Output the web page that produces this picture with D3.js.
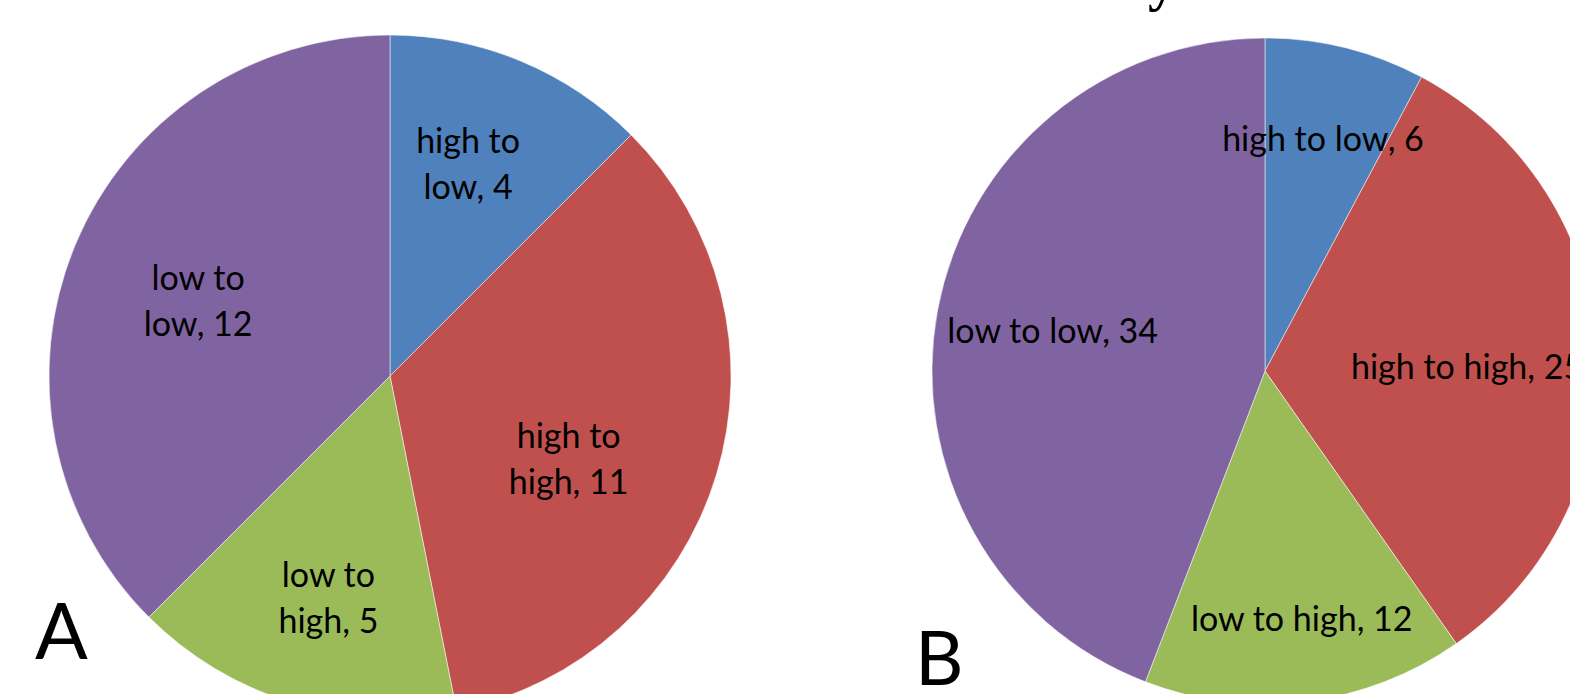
<!DOCTYPE html>
<html><head><meta charset="utf-8">
<script src="https://cdn.jsdelivr.net/npm/d3@7"></script>
<style>html,body{margin:0;padding:0;background:#fff;overflow:hidden}</style>
</head><body>
<svg id="chart" width="1570" height="694"></svg>
<script>
const categories = ["high to low", "high to high", "low to high", "low to low"];
const valuesA = [4, 11, 5, 12];
const valuesB = [6, 25, 12, 34];
const panelLabels = ["A", "B"];
const colors = ["#4F81BD", "#C0504D", "#9BBB59", "#8064A2"];

// layout (not data)
const pies = [
  {values: valuesA, cx: 390, cy: 376, r: 341, wrap: true,
   labR: [0.663, 0.578, 0.677, 0.604], labDA: [-2.3, 8.1, -1.4, -1.2],
   letter: {x: 35, y: 659, size: 78}},
  {values: valuesB, cx: 1265, cy: 371, r: 333, wrap: false,
   labR: [0.718, 0.607, 0.754, 0.649], labDA: [0, 2.4, -1.4, 0.2],
   letter: {x: 915, y: 685, size: 75}}
];

const svg = d3.select("#chart");
const font = "Lato, 'Noto Sans', sans-serif";

// clipped title descender at top
svg.append("text").attr("x", 1148).attr("y", 0)
  .attr("font-family", "'Liberation Serif', serif").attr("font-size", 56)
  .attr("font-weight", "bold")
  .attr("fill", "#000").text("y");

pies.forEach((p, pi) => {
  const data = categories.map((c, i) => ({cat: c, value: p.values[i], idx: i}));
  const pie = d3.pie().value(d => d.value).sort(null);
  const arcs = pie(data);
  const arc = d3.arc().innerRadius(0).outerRadius(p.r);
  const g = svg.append("g").attr("transform", `translate(${p.cx},${p.cy})`);
  g.selectAll("path").data(arcs).join("path")
    .attr("d", arc)
    .attr("fill", d => colors[d.data.idx])
    .attr("stroke", "#ffffff").attr("stroke-opacity", 0.5).attr("stroke-width", 1);

  arcs.forEach((d, i) => {
    const rr = p.r * p.labR[i];
    const mid = (d.startAngle + d.endAngle) / 2 + p.labDA[i] * Math.PI / 180;
    const la = d3.arc().innerRadius(rr).outerRadius(rr)
      .startAngle(mid).endAngle(mid);
    const [x, y] = la.centroid();
    const t = g.append("text").attr("x", x).attr("y", y)
      .attr("text-anchor", "middle").attr("font-family", font)
      .attr("font-size", 34).attr("fill", "#000");
    const full = `${d.data.cat}, ${d.data.value}`;
    if (p.wrap) {
      const words = d.data.cat.split(" ");
      const l1 = words.slice(0, 2).join(" ");
      const l2 = words.slice(2).join(" ") + ", " + d.data.value;
      t.append("tspan").attr("x", x).attr("y", y - 23).attr("dy", "0.35em").text(l1);
      t.append("tspan").attr("x", x).attr("y", y + 23).attr("dy", "0.35em").text(l2);
    } else {
      t.attr("dy", "0.35em").text(full);
    }
  });

  svg.append("text").attr("x", p.letter.x).attr("y", p.letter.y)
    .attr("font-family", font).attr("font-size", p.letter.size)
    .attr("fill", "#000").text(panelLabels[pi]);
});
</script>
</body></html>
